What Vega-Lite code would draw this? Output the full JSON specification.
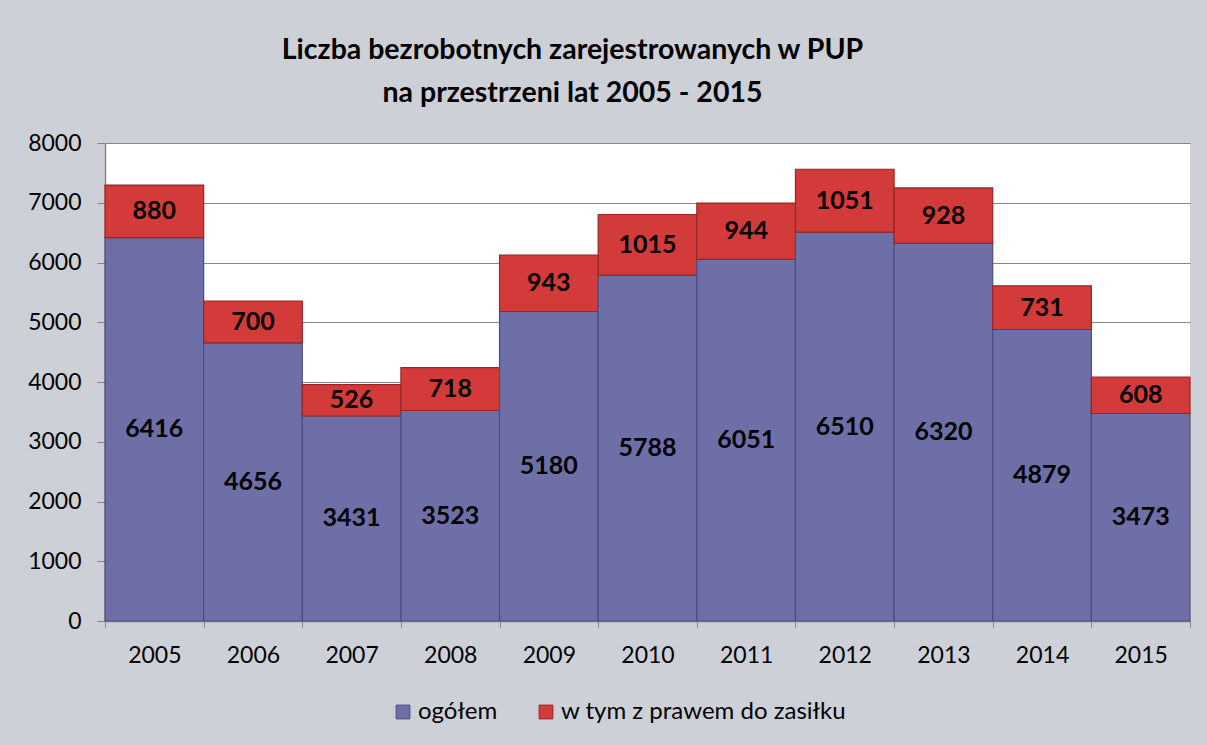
{
  "$schema": "https://vega.github.io/schema/vega-lite/v6.json",
  "width": 1085,
  "height": 478,
  "autosize": {"type": "none"},
  "padding": {"left": 105, "top": 143, "right": 17, "bottom": 124},
  "background": "#cdd0d7",
  "title": {
    "text": ["Liczba bezrobotnych zarejestrowanych w PUP", "na przestrzeni lat 2005 - 2015"],
    "font": "Lato",
    "fontSize": 28.5,
    "fontWeight": "bold",
    "color": "#000000",
    "anchor": "middle",
    "frame": "group",
    "lineHeight": 43,
    "offset": 25,
    "dx": -75
  },
  "data": {
    "values": [
      {"year": "2005", "series": "ogółem", "ord": 1, "value": 6416},
      {"year": "2005", "series": "w tym z prawem do zasiłku", "ord": 2, "value": 880},
      {"year": "2006", "series": "ogółem", "ord": 1, "value": 4656},
      {"year": "2006", "series": "w tym z prawem do zasiłku", "ord": 2, "value": 700},
      {"year": "2007", "series": "ogółem", "ord": 1, "value": 3431},
      {"year": "2007", "series": "w tym z prawem do zasiłku", "ord": 2, "value": 526},
      {"year": "2008", "series": "ogółem", "ord": 1, "value": 3523},
      {"year": "2008", "series": "w tym z prawem do zasiłku", "ord": 2, "value": 718},
      {"year": "2009", "series": "ogółem", "ord": 1, "value": 5180},
      {"year": "2009", "series": "w tym z prawem do zasiłku", "ord": 2, "value": 943},
      {"year": "2010", "series": "ogółem", "ord": 1, "value": 5788},
      {"year": "2010", "series": "w tym z prawem do zasiłku", "ord": 2, "value": 1015},
      {"year": "2011", "series": "ogółem", "ord": 1, "value": 6051},
      {"year": "2011", "series": "w tym z prawem do zasiłku", "ord": 2, "value": 944},
      {"year": "2012", "series": "ogółem", "ord": 1, "value": 6510},
      {"year": "2012", "series": "w tym z prawem do zasiłku", "ord": 2, "value": 1051},
      {"year": "2013", "series": "ogółem", "ord": 1, "value": 6320},
      {"year": "2013", "series": "w tym z prawem do zasiłku", "ord": 2, "value": 928},
      {"year": "2014", "series": "ogółem", "ord": 1, "value": 4879},
      {"year": "2014", "series": "w tym z prawem do zasiłku", "ord": 2, "value": 731},
      {"year": "2015", "series": "ogółem", "ord": 1, "value": 3473},
      {"year": "2015", "series": "w tym z prawem do zasiłku", "ord": 2, "value": 608}
    ]
  },
  "transform": [
    {"stack": "value", "groupby": ["year"], "sort": [{"field": "ord", "order": "ascending"}], "as": ["y0", "y1"]},
    {"calculate": "(datum.y0 + datum.y1) / 2", "as": "mid"}
  ],
  "encoding": {
    "x": {
      "field": "year",
      "type": "nominal",
      "scale": {"paddingInner": 0, "paddingOuter": 0},
      "axis": {
        "title": null,
        "labelAngle": 0,
        "labelFont": "Lato",
        "labelFontSize": 23,
        "labelColor": "#000000",
        "labelPadding": 17,
        "tickBand": "extent",
        "tickSize": 6,
        "tickColor": "#868686",
        "domainColor": "#868686",
        "domainWidth": 1.5
      }
    }
  },
  "layer": [
    {
      "mark": {"type": "bar", "strokeWidth": 1.2},
      "encoding": {
        "y": {
          "field": "y0",
          "type": "quantitative",
          "scale": {"domain": [0, 8000]},
          "axis": {
            "title": null,
            "values": [0, 1000, 2000, 3000, 4000, 5000, 6000, 7000, 8000],
            "format": "d",
            "labelFont": "Lato",
            "labelFontSize": 23,
            "labelColor": "#000000",
            "labelPadding": 16,
            "tickSize": 8,
            "tickColor": "#868686",
            "domainColor": "#868686",
            "domainWidth": 1.5,
            "grid": true,
            "gridColor": "#868686",
            "gridWidth": 1.2
          }
        },
        "y2": {"field": "y1"},
        "color": {
          "field": "series",
          "type": "nominal",
          "scale": {"domain": ["ogółem", "w tym z prawem do zasiłku"], "range": ["#6f6fa8", "#d33b3b"]},
          "legend": {
            "title": null,
            "orient": "none",
            "legendX": 286,
            "legendY": 557,
            "direction": "horizontal",
            "symbolType": "square",
            "symbolSize": 190,
            "symbolStrokeWidth": 1,
            "labelFont": "Lato",
            "labelFontSize": 24,
            "labelLimit": 0,
            "labelColor": "#000000",
            "columnPadding": 36,
            "labelOffset": 3
          }
        },
        "stroke": {
          "field": "series",
          "type": "nominal",
          "scale": {"domain": ["ogółem", "w tym z prawem do zasiłku"], "range": ["#4d4d80", "#9a2424"]},
          "legend": null
        }
      }
    },
    {
      "mark": {"type": "text", "font": "Lato", "fontSize": 25, "fontWeight": "bold", "color": "#000000", "baseline": "middle", "align": "center"},
      "encoding": {
        "y": {"field": "mid", "type": "quantitative"},
        "text": {"field": "value", "type": "quantitative", "format": "d"}
      }
    }
  ],
  "config": {
    "view": {"fill": "#ffffff", "stroke": null}
  }
}
